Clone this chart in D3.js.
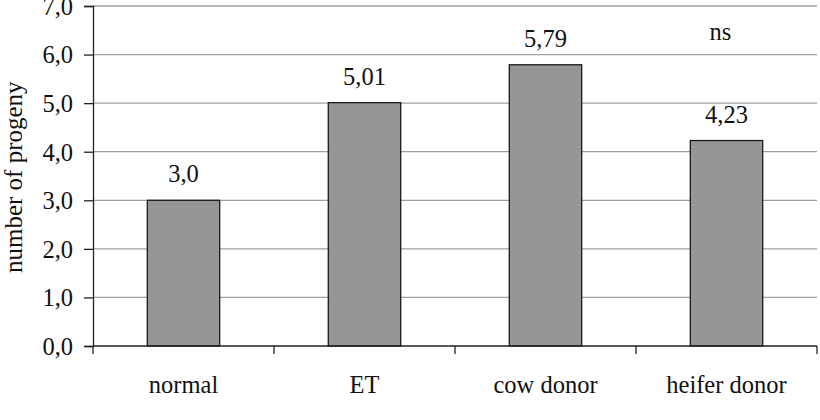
<!DOCTYPE html>
<html>
<head>
<meta charset="utf-8">
<script src="https://cdn.jsdelivr.net/npm/d3@7"></script>
<style>
  body { margin: 0; background: #fff; }
</style>
</head>
<body>
<div id="chart-area"></div>
<script>
//Data
var categories = ["normal", "ET", "cow donor", "heifer donor"];
var values = [3.0, 5.01, 5.79, 4.23];
var valueLabels = ["3,0", "5,01", "5,79", "4,23"];
var yTicks = [0, 1, 2, 3, 4, 5, 6, 7];
var note = { category: "heifer donor", value: 6.3, text: "ns" };

var font = "'Liberation Serif', 'DejaVu Serif', serif";
var fontSize = "24.5px";

//Margin
var margin = { left:93, right:3, top:6, bottom:74 },
    width = 820 - margin.left - margin.right,
    height = 420 - margin.top - margin.bottom;

var svg = d3.select("#chart-area").append("svg")
    .attr("width", 820)
    .attr("height", 420)
    .attr("font-family", font);
var g = svg.append("g")
    .attr("transform", "translate("+margin.left+","+margin.top+")");

//Scales
var x = d3.scaleBand()
    .domain(categories)
    .range([0, width])
    .paddingInner(0.6)
    .paddingOuter(0.3);
var y = d3.scaleLinear()
    .domain([0, 7])
    .range([height, 0]);

//Gridlines
g.selectAll(".grid")
    .data(yTicks.slice(1))
    .enter().append("line")
    .attr("class", "grid")
    .attr("x1", 0).attr("x2", width)
    .attr("y1", d => y(d)).attr("y2", d => y(d))
    .attr("stroke", "#a0a0a0")
    .attr("stroke-width", 1.3);

//Bars
g.selectAll(".bar")
    .data(values)
    .enter().append("rect")
    .attr("class", "bar")
    .attr("x", (d, i) => x(categories[i]))
    .attr("width", x.bandwidth())
    .attr("y", d => y(d))
    .attr("height", d => height - y(d))
    .attr("fill", "#969696")
    .attr("stroke", "#1a1a1a")
    .attr("stroke-width", 1.3);

//Value labels
g.selectAll(".val")
    .data(values)
    .enter().append("text")
    .attr("class", "val")
    .attr("x", (d, i) => x(categories[i]) + x.bandwidth()/2)
    .attr("y", d => y(d) - 18)
    .attr("text-anchor", "middle")
    .attr("font-family", font)
    .style("font-size", fontSize)
    .attr("fill", "#111")
    .text((d, i) => valueLabels[i]);

g.append("text")
    .attr("x", x(note.category) + x.bandwidth()/2 - 6)
    .attr("y", y(note.value))
    .attr("text-anchor", "middle")
    .attr("font-family", font)
    .style("font-size", fontSize)
    .attr("fill", "#111")
    .text(note.text);

//Y axis
var yAxis = g.append("g")
    .call(d3.axisLeft(y).tickValues(yTicks).tickSize(9).tickPadding(11)
        .tickFormat(d => d3.format(".1f")(d).replace(".", ",")));
yAxis.attr("font-family", font);
yAxis.selectAll("text").style("font-size", fontSize).attr("fill", "#111").attr("dy", "0.34em");
yAxis.select(".domain").attr("stroke", "#222").attr("stroke-width", 1.3);
yAxis.selectAll(".tick line").attr("stroke", "#222").attr("stroke-width", 1.3);

//X axis
var xAxis = g.append("g")
    .attr("transform", "translate(0,"+height+")");
xAxis.append("line")
    .attr("x1", 0).attr("x2", width)
    .attr("stroke", "#222").attr("stroke-width", 1.3);
var boundaries = categories.map(c => x(c) - x.step()*0.3).concat([width]);
xAxis.selectAll(".xtick")
    .data(boundaries)
    .enter().append("line")
    .attr("x1", d => d).attr("x2", d => d)
    .attr("y1", 0).attr("y2", 8)
    .attr("stroke", "#222").attr("stroke-width", 1.3);
xAxis.selectAll(".xlab")
    .data(categories)
    .enter().append("text")
    .attr("x", d => x(d) + x.bandwidth()/2)
    .attr("y", 47)
    .attr("text-anchor", "middle")
    .attr("font-family", font)
    .style("font-size", fontSize)
    .attr("fill", "#111")
    .text(d => d);

//Y axis title
svg.append("text")
    .attr("transform", "translate(22,273) rotate(-90)")
    .attr("text-anchor", "start")
    .attr("font-family", font)
    .style("font-size", "25px")
    .attr("fill", "#111")
    .text("number of progeny");
</script>
</body>
</html>
